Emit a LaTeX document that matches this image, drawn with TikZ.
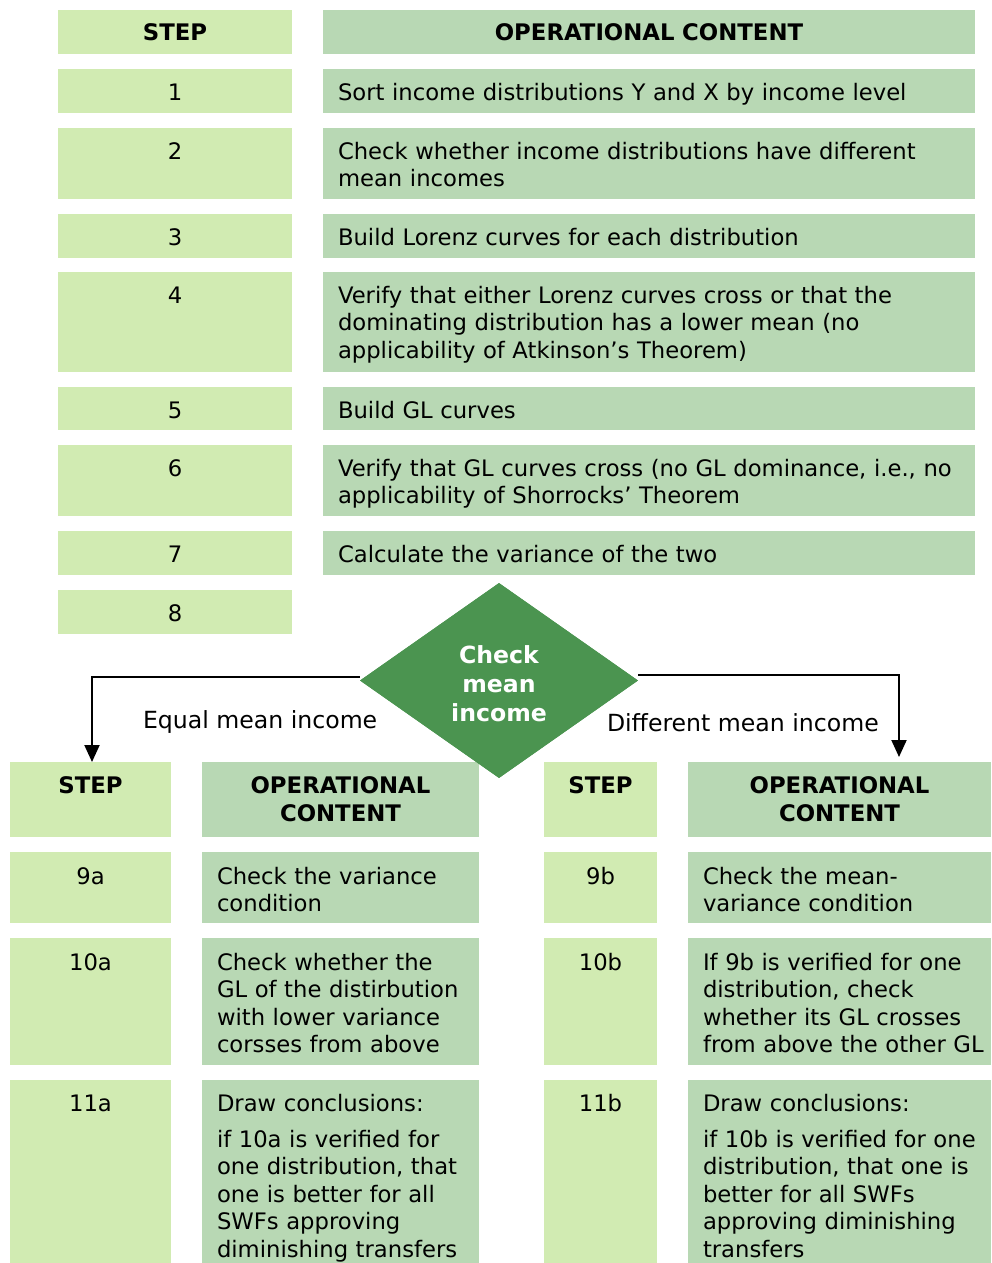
\documentclass[tikz,border=0pt]{standalone}
\usepackage{fontspec}
\setmainfont{DejaVu Sans}
\usetikzlibrary{shapes.geometric,arrows.meta}

\definecolor{steplight}{HTML}{D1EBB2}
\definecolor{opgreen}{HTML}{B8D8B4}
\definecolor{decisiongreen}{HTML}{4B9450}

\begin{document}
\begin{tikzpicture}[x=1pt,y=-1pt,
  cell/.style={rectangle,inner sep=0pt,outer sep=0pt,anchor=north west,draw=none},
  stepcell/.style={cell,fill=steplight},
  opcell/.style={cell,fill=opgreen},
  txt/.style={inner sep=0pt,outer sep=0pt,font=\fontsize{22.7}{27.6}\selectfont},
  num/.style={txt,anchor=base},
  head/.style={txt,anchor=base,align=center,text width=#1,font=\fontsize{22.8}{28}\selectfont\bfseries},
  para/.style={txt,anchor=base west,align=left,text width=#1},
  branchlabel/.style={txt,anchor=base west,font=\fontsize{23.6}{28}\selectfont},
  flow/.style={draw=black,line width=2pt,-{Triangle[width=15pt,length=17pt]}},
  decision/.style={diamond,fill=decisiongreen,inner sep=0pt,minimum width=278pt,minimum height=195pt},
  decisiontext/.style={inner sep=0pt,text=white,align=center,font=\fontsize{23.6}{29}\selectfont\bfseries}
]
\path[use as bounding box] (0,0) rectangle (991,1263);

% ---------- upper table: steps 1 to 8 ----------
\node[stepcell,minimum width=234pt,minimum height=44pt] (hs) at (58,10) {};
\node[head=230pt] (hst) at (175,41) {STEP};
\node[opcell,minimum width=652pt,minimum height=44pt] (hc) at (323,10) {};
\node[head=640pt] (hct) at (649,41) {OPERATIONAL CONTENT};

\node[stepcell,minimum width=234pt,minimum height=44pt] (s1) at (58,69) {};
\node[num] (s1t) at (175,100) {1};
\node[opcell,minimum width=652pt,minimum height=44pt] (c1) at (323,69) {};
\node[para=630pt] (c1t) at (338,100) {Sort income distributions Y and X by income level};

\node[stepcell,minimum width=234pt,minimum height=71pt] (s2) at (58,128) {};
\node[num] (s2t) at (175,159) {2};
\node[opcell,minimum width=652pt,minimum height=71pt] (c2) at (323,128) {};
\node[para=630pt] (c2t) at (338,159) {Check whether income distributions have different\\mean incomes};

\node[stepcell,minimum width=234pt,minimum height=44pt] (s3) at (58,214) {};
\node[num] (s3t) at (175,245) {3};
\node[opcell,minimum width=652pt,minimum height=44pt] (c3) at (323,214) {};
\node[para=630pt] (c3t) at (338,245) {Build Lorenz curves for each distribution};

\node[stepcell,minimum width=234pt,minimum height=100pt] (s4) at (58,272) {};
\node[num] (s4t) at (175,303) {4};
\node[opcell,minimum width=652pt,minimum height=100pt] (c4) at (323,272) {};
\node[para=630pt] (c4t) at (338,303) {Verify that either Lorenz curves cross or that the\\dominating distribution has a lower mean (no\\applicability of Atkinson’s Theorem)};

\node[stepcell,minimum width=234pt,minimum height=43pt] (s5) at (58,387) {};
\node[num] (s5t) at (175,418) {5};
\node[opcell,minimum width=652pt,minimum height=43pt] (c5) at (323,387) {};
\node[para=630pt] (c5t) at (338,418) {Build GL curves};

\node[stepcell,minimum width=234pt,minimum height=71pt] (s6) at (58,445) {};
\node[num] (s6t) at (175,476) {6};
\node[opcell,minimum width=652pt,minimum height=71pt] (c6) at (323,445) {};
\node[para=640pt] (c6t) at (338,476) {Verify that GL curves cross (no GL dominance, i.e., no\\applicability of Shorrocks’ Theorem};

\node[stepcell,minimum width=234pt,minimum height=44pt] (s7) at (58,531) {};
\node[num] (s7t) at (175,562) {7};
\node[opcell,minimum width=652pt,minimum height=44pt] (c7) at (323,531) {};
\node[para=630pt] (c7t) at (338,562) {Calculate the variance of the two};

\node[stepcell,minimum width=234pt,minimum height=44pt] (s8) at (58,590) {};
\node[num] (s8t) at (175,621) {8};

% ---------- lower tables: branch a (left) and branch b (right) ----------
\node[stepcell,minimum width=161pt,minimum height=75pt] (sa) at (10,762) {};
\node[head=157pt] (sat) at (90.5,793) {STEP};
\node[opcell,minimum width=277pt,minimum height=75pt] (ca) at (202,762) {};
\node[head=270pt] (cat) at (340.5,793) {OPERATIONAL\\CONTENT};

\node[stepcell,minimum width=113pt,minimum height=75pt] (sb) at (544,762) {};
\node[head=110pt] (sbt) at (600.5,793) {STEP};
\node[opcell,minimum width=303pt,minimum height=75pt] (cb) at (688,762) {};
\node[head=295pt] (cbt) at (839.5,793) {OPERATIONAL\\CONTENT};

\node[stepcell,minimum width=161pt,minimum height=71pt] (s9a) at (10,852) {};
\node[num] (s9at) at (90.5,884) {9a};
\node[opcell,minimum width=277pt,minimum height=71pt] (c9a) at (202,852) {};
\node[para=262pt] (c9at) at (217,884) {Check the variance\\condition};

\node[stepcell,minimum width=113pt,minimum height=71pt] (s9b) at (544,852) {};
\node[num] (s9bt) at (600.5,884) {9b};
\node[opcell,minimum width=303pt,minimum height=71pt] (c9b) at (688,852) {};
\node[para=300pt] (c9bt) at (703,884) {Check the mean-\\variance condition};

\node[stepcell,minimum width=161pt,minimum height=127pt] (s10a) at (10,938) {};
\node[num] (s10at) at (90.5,970) {10a};
\node[opcell,minimum width=277pt,minimum height=127pt] (c10a) at (202,938) {};
\node[para=262pt] (c10at) at (217,970) {Check whether the\\GL of the distirbution\\with lower variance\\corsses from above};

\node[stepcell,minimum width=113pt,minimum height=127pt] (s10b) at (544,938) {};
\node[num] (s10bt) at (600.5,970) {10b};
\node[opcell,minimum width=303pt,minimum height=127pt] (c10b) at (688,938) {};
\node[para=300pt] (c10bt) at (703,970) {If 9b is verified for one\\distribution, check\\whether its GL crosses\\from above the other GL};

\node[stepcell,minimum width=161pt,minimum height=183pt] (s11a) at (10,1080) {};
\node[num] (s11at) at (90.5,1111) {11a};
\node[opcell,minimum width=277pt,minimum height=183pt] (c11a) at (202,1080) {};
\node[para=262pt] (c11at) at (217,1111) {Draw conclusions:\\[8.5pt]if 10a is verified for\\one distribution, that\\one is better for all\\SWFs approving\\diminishing transfers};

\node[stepcell,minimum width=113pt,minimum height=183pt] (s11b) at (544,1080) {};
\node[num] (s11bt) at (600.5,1111) {11b};
\node[opcell,minimum width=303pt,minimum height=183pt] (c11b) at (688,1080) {};
\node[para=300pt] (c11bt) at (703,1111) {Draw conclusions:\\[8.5pt]if 10b is verified for one\\distribution, that one is\\better for all SWFs\\approving diminishing\\transfers};

% ---------- decision on the mean income ----------
\coordinate (lcorner) at (92,677);
\coordinate (rcorner) at (899,675);
\coordinate (rtip) at (899,757);
\node[decision] (dec) at (499,680.5) {};
\draw[flow] (dec.west |- lcorner) -- (lcorner) -- (lcorner |- sa.north);
\draw[flow] (dec.east |- rcorner) -- (rcorner) -- (rtip);
\node[decision] (decb) at (499,680.5) {};
\node[decisiontext] (dect) at (499,683.5) {Check\\mean\\income};

\node[branchlabel] (eq) at (143,728) {Equal mean income};
\node[branchlabel] (diff) at (607,731) {Different mean income};
\end{tikzpicture}
\end{document}
